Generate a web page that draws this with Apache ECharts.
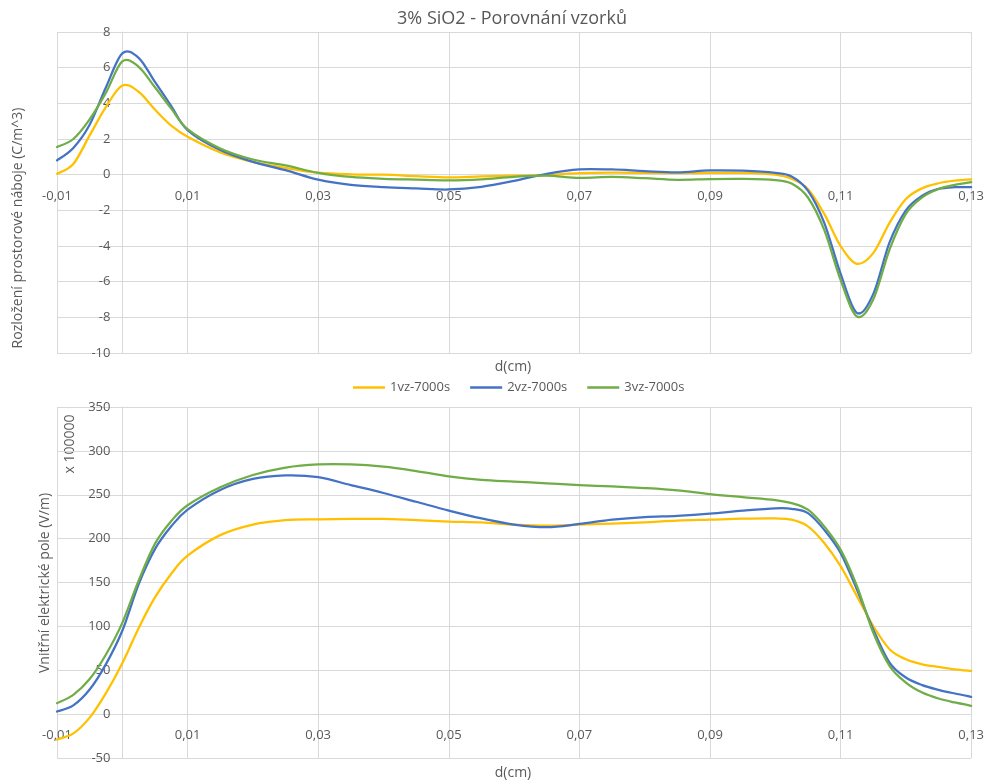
<!DOCTYPE html>
<html>
<head>
<meta charset="utf-8">
<script src="https://cdn.jsdelivr.net/npm/echarts@6/dist/echarts.min.js"></script>
<style>
  html, body { margin: 0; padding: 0; background: #ffffff; }
  #chart { width: 987px; height: 782px; }
</style>
</head>
<body>
<div id="chart"></div>
<script>
// Position d (cm) shared by all measurements
const depth = [-0.01, -0.0075, -0.005, -0.0025, 0, 0.0025, 0.005, 0.0075, 0.01, 0.015, 0.02, 0.025, 0.03, 0.035, 0.04, 0.045, 0.05, 0.055, 0.06, 0.065, 0.07, 0.075, 0.08, 0.085, 0.09, 0.095, 0.1, 0.1025, 0.105, 0.1075, 0.11, 0.1125, 0.115, 0.1175, 0.12, 0.1225, 0.125, 0.1275, 0.13];

// Space charge distribution (C/m^3)
const charge1 = [0.05, 0.6, 2.2, 3.8, 5.0, 4.65, 3.65, 2.75, 2.12, 1.25, 0.72, 0.38, 0.11, 0.02, 0.0, -0.08, -0.15, -0.1, -0.06, -0.02, 0.08, 0.11, 0.1, 0.08, 0.1, 0.1, 0.0, -0.23, -0.8, -2.2, -4.0, -5.0, -4.4, -2.7, -1.37, -0.76, -0.48, -0.34, -0.27];
const charge2 = [0.8, 1.5, 2.8, 4.9, 6.8, 6.55, 5.2, 3.85, 2.5, 1.38, 0.72, 0.25, -0.28, -0.57, -0.7, -0.77, -0.83, -0.68, -0.35, 0.05, 0.3, 0.29, 0.2, 0.13, 0.24, 0.22, 0.1, -0.1, -0.9, -2.7, -5.55, -7.75, -6.7, -3.8, -2.0, -1.18, -0.8, -0.7, -0.7];
const charge3 = [1.55, 2.0, 3.1, 4.6, 6.35, 6.05, 4.9, 3.7, 2.55, 1.47, 0.85, 0.52, 0.1, -0.13, -0.23, -0.28, -0.32, -0.26, -0.12, -0.06, -0.18, -0.13, -0.2, -0.29, -0.25, -0.24, -0.3, -0.5, -1.28, -3.1, -5.9, -7.95, -7.0, -4.2, -2.2, -1.27, -0.8, -0.57, -0.42];

// Internal electric field (V/m, x 100000)
const field1 = [-29, -22, -4, 24, 58, 98, 133, 160, 180.5, 204, 216, 221, 222, 222.5, 222.5, 221, 219.5, 218.4, 216, 214.8, 216, 217, 218.6, 220.5, 221.6, 222.7, 223, 221.6, 214, 195, 168.6, 134.5, 100.4, 74, 62.5, 56.8, 53.8, 51, 49.2];
const field2 = [3, 10, 28, 57, 95, 148, 188, 214, 233, 255.5, 268, 272, 270, 261, 252, 242, 232, 223, 216, 213, 216.7, 221.6, 224.6, 226, 228.4, 231.8, 234.5, 234, 229, 210, 183.7, 142, 96.6, 58.7, 41.7, 33, 27.7, 23.5, 19.7];
const field3 = [12.5, 22, 40, 68, 104, 152, 194, 220, 238, 258.5, 272.5, 281, 284.6, 284.6, 282, 277, 271, 267, 265, 263, 261, 259.5, 257.6, 255, 250.8, 247.4, 244, 240.5, 233, 214, 187.5, 146, 93, 55, 36, 24.6, 17.8, 13.3, 9.5];

const sampleNames = ['1vz-7000s', '2vz-7000s', '3vz-7000s'];
const sampleColors = ['#FFC000', '#4472C4', '#70AD47'];

// Axis ranges
const X_MIN = -0.01, X_MAX = 0.13, X_STEP = 0.02;
const CHARGE_MIN = -10, CHARGE_MAX = 8, CHARGE_STEP = 2;
const FIELD_MIN = -50, FIELD_MAX = 350, FIELD_STEP = 50;

const FONT = '"Open Sans", "Noto Sans", sans-serif';
const TEXT = '#595959';
const GRID = '#d9d9d9';

// Plot areas
const PLOT_LEFT = 57, PLOT_RIGHT = 14, PLOT_W = 987 - PLOT_LEFT - PLOT_RIGHT;
const grids = [
  { left: PLOT_LEFT, right: PLOT_RIGHT, top: 32, height: 321 },
  { left: PLOT_LEFT, right: PLOT_RIGHT, top: 407, height: 351 }
];

const pairs = (ys) => depth.map((d, i) => [d, ys[i]]);
const cm = (v) => (Math.round(v * 100) / 100).toFixed(2).replace('.', ',');

// Axes cross each other at zero: shift them in from the plot edges
function xAxisFor(gi, yMin, yMax) {
  const shift = (0 - yMin) / (yMax - yMin) * grids[gi].height;
  return {
    type: 'value', gridIndex: gi, min: X_MIN, max: X_MAX, interval: X_STEP, offset: -shift,
    axisLine: { show: true, onZero: false, lineStyle: { color: GRID, width: 1 } },
    axisTick: { show: false },
    splitLine: { show: true, lineStyle: { color: GRID, width: 1 } },
    axisLabel: { formatter: cm, color: TEXT, fontSize: 13, fontFamily: FONT, margin: 15, showMinLabel: true, showMaxLabel: true }
  };
}
function yAxisFor(gi, min, max, interval) {
  const shift = (0 - X_MIN) / (X_MAX - X_MIN) * PLOT_W;
  return {
    type: 'value', gridIndex: gi, min, max, interval, offset: -shift,
    axisLine: { show: true, onZero: false, lineStyle: { color: GRID, width: 1 } },
    axisTick: { show: false },
    splitLine: { show: true, lineStyle: { color: GRID, width: 1 } },
    axisLabel: { color: TEXT, fontSize: 13, fontFamily: FONT, margin: 12 }
  };
}

// Smoothed curve through the data points (Catmull-Rom as cubic Bezier)
function curveSeries(i, ys, axisIndex) {
  const data = pairs(ys);
  const color = sampleColors[i];
  return {
    name: sampleNames[i], type: 'custom', xAxisIndex: axisIndex, yAxisIndex: axisIndex,
    coordinateSystem: 'cartesian2d', encode: { x: 0, y: 1 },
    data, itemStyle: { color }, z: 3 + i,
    renderItem(params, api) {
      if (params.dataIndex !== 0) return null;
      const p = data.map((v) => api.coord(v));
      const n = p.length;
      let d = 'M' + p[0][0] + ',' + p[0][1];
      for (let k = 0; k < n - 1; k++) {
        const p0 = p[Math.max(k - 1, 0)], p1 = p[k], p2 = p[k + 1], p3 = p[Math.min(k + 2, n - 1)];
        const c1x = p1[0] + (p2[0] - p0[0]) / 6, c1y = p1[1] + (p2[1] - p0[1]) / 6;
        const c2x = p2[0] - (p3[0] - p1[0]) / 6, c2y = p2[1] - (p3[1] - p1[1]) / 6;
        d += ' C' + c1x + ',' + c1y + ' ' + c2x + ',' + c2y + ' ' + p2[0] + ',' + p2[1];
      }
      return {
        type: 'path', shape: { pathData: d },
        style: { fill: 'none', stroke: color, lineWidth: 2.25, lineJoin: 'round', lineCap: 'round' }
      };
    }
  };
}

const chart = echarts.init(document.getElementById('chart'), null, { renderer: 'canvas' });
chart.setOption({
  animation: false,
  backgroundColor: '#ffffff',
  title: {
    text: '3% SiO2 - Porovnání vzorků', left: 507, top: 5, textAlign: 'center',
    textStyle: { color: TEXT, fontSize: 18, fontWeight: 'normal', fontFamily: FONT }
  },
  legend: {
    data: sampleNames, left: 348, top: 376, icon: 'rect', itemWidth: 32, itemHeight: 2.5, itemGap: 20,
    textStyle: { color: TEXT, fontSize: 13, fontFamily: FONT }
  },
  grid: grids,
  xAxis: [xAxisFor(0, CHARGE_MIN, CHARGE_MAX), xAxisFor(1, FIELD_MIN, FIELD_MAX)],
  yAxis: [yAxisFor(0, CHARGE_MIN, CHARGE_MAX, CHARGE_STEP), yAxisFor(1, FIELD_MIN, FIELD_MAX, FIELD_STEP)],
  series: [
    curveSeries(0, charge1, 0), curveSeries(1, charge2, 0), curveSeries(2, charge3, 0),
    curveSeries(0, field1, 1), curveSeries(1, field2, 1), curveSeries(2, field3, 1)
  ],
  graphic: [
    { type: 'text', x: 18, y: 228, rotation: Math.PI / 2, style: { text: 'Rozložení prostorové náboje (C/m^3)', fill: TEXT, font: '14px ' + FONT, textAlign: 'center', textVerticalAlign: 'middle' } },
    { type: 'text', x: 513, y: 367, style: { text: 'd(cm)', fill: TEXT, font: '14px ' + FONT, textAlign: 'center', textVerticalAlign: 'middle' } },
    { type: 'text', x: 45, y: 583, rotation: Math.PI / 2, style: { text: 'Vnitřní elektrické pole (V/m)', fill: TEXT, font: '14px ' + FONT, textAlign: 'center', textVerticalAlign: 'middle' } },
    { type: 'text', x: 70, y: 444, rotation: Math.PI / 2, style: { text: 'x 100000', fill: TEXT, font: '14px ' + FONT, textAlign: 'center', textVerticalAlign: 'middle' } },
    { type: 'text', x: 513, y: 773, style: { text: 'd(cm)', fill: TEXT, font: '14px ' + FONT, textAlign: 'center', textVerticalAlign: 'middle' } }
  ]
});
</script>
</body>
</html>
